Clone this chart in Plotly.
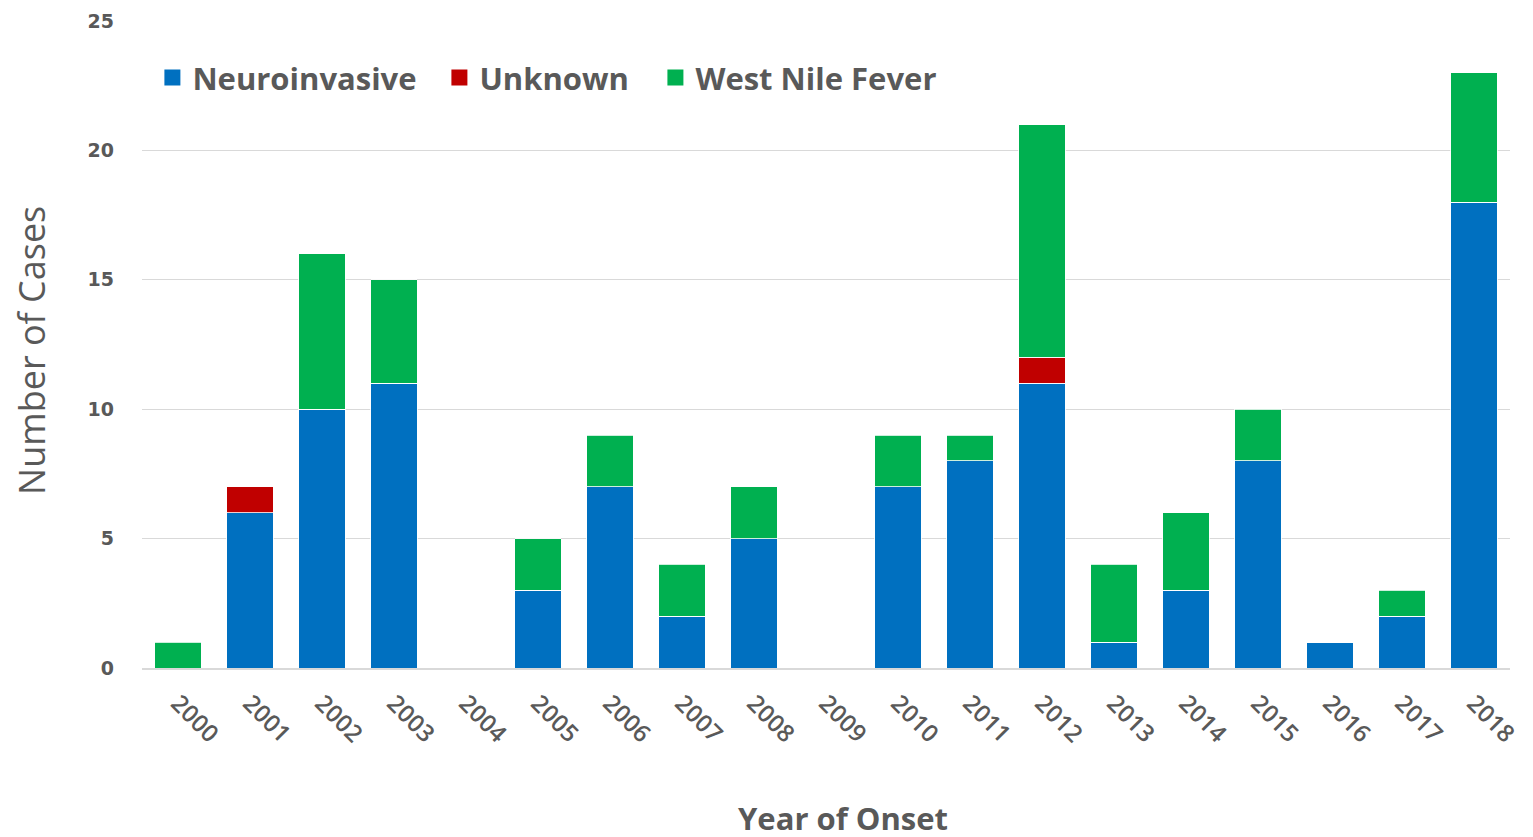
import plotly.graph_objects as go

years = [str(y) for y in range(2000, 2019)]
neuroinvasive = [0, 6, 10, 11, 0, 3, 7, 2, 5, 0, 7, 8, 11, 1, 3, 8, 1, 2, 18]
unknown = [0, 1, 0, 0, 0, 0, 0, 0, 0, 0, 0, 0, 1, 0, 0, 0, 0, 0, 0]
west_nile_fever = [1, 0, 6, 4, 0, 2, 2, 2, 2, 0, 2, 1, 9, 3, 3, 2, 0, 1, 5]

series = [
    ("Neuroinvasive", neuroinvasive, "#0070C0", "legend", 0.0076),
    ("Unknown", unknown, "#C00000", "legend2", 0.2174),
    ("West Nile Fever", west_nile_fever, "#00B050", "legend3", 0.3753),
]

fig = go.Figure()
for name, vals, color, lg, lx in series:
    fig.add_trace(go.Bar(
        x=years, y=vals, name=name, showlegend=False, legendgroup=name,
        marker=dict(color=color, line=dict(color="white", width=0.8)),
    ))
# legend entries with larger square swatches
for name, vals, color, lg, lx in series:
    fig.add_trace(go.Scatter(
        x=[None], y=[None], mode="markers", name=name, legendgroup=name,
        legend=lg, marker=dict(symbol="square", size=20, color=color),
    ))

font_family = "Open Sans, Liberation Sans, sans-serif"
grey = "#595959"

legend_common = dict(
    orientation="h", y=0.912, xanchor="left", yanchor="middle",
    font=dict(size=31, color=grey, family=font_family, weight="bold"),
    bgcolor="rgba(0,0,0,0)", itemwidth=30,
)

fig.update_layout(
    barmode="stack",
    bargap=0.36,
    width=1533, height=837,
    margin=dict(l=134, r=31, t=13, b=177),
    paper_bgcolor="white", plot_bgcolor="white",
    font=dict(family=font_family, color=grey),
    showlegend=True,
    legend=dict(x=series[0][4], **legend_common),
    legend2=dict(x=series[1][4], **legend_common),
    legend3=dict(x=series[2][4], **legend_common),
    xaxis=dict(
        tickangle=45, tickfont=dict(size=24, color=grey, weight=600),
        ticklabelstandoff=10,
        showgrid=False, showline=True, linecolor="#d9d9d9", linewidth=1.5,
        automargin=False,
    ),
    yaxis=dict(
        range=[0, 25], dtick=5,
        tickfont=dict(size=19, color=grey, weight="bold", family="DejaVu Sans, sans-serif"),
        ticklabelstandoff=27,
        showgrid=True, gridcolor="#d9d9d9", gridwidth=1.2,
        zeroline=False, ticks="", ticklen=0,
        automargin=False,
    ),
    annotations=[
        dict(
            text="<b>Year of Onset</b>", xref="paper", yref="paper",
            x=0.5124, y=-0.232, xanchor="center", yanchor="middle", showarrow=False,
            font=dict(size=31, color=grey, family=font_family),
        ),
        dict(
            text="Number of Cases", xref="paper", yref="paper",
            x=-0.0805, y=0.4915, xanchor="center", yanchor="middle", showarrow=False,
            textangle=-90, font=dict(size=36, color=grey, family=font_family),
        ),
    ],
)

fig.write_html("out.html")
